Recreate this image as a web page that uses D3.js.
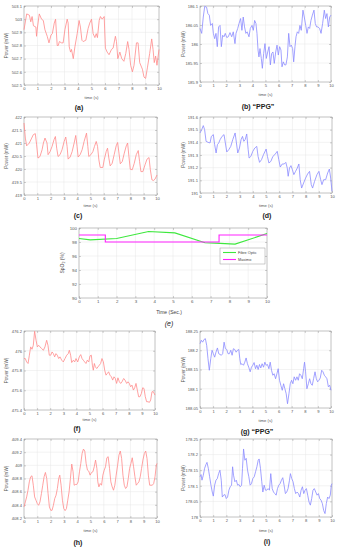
<!DOCTYPE html>
<html>
<head>
<meta charset="utf-8">
<script src="https://cdn.jsdelivr.net/npm/d3@7"></script>
<style>
  body { margin: 0; background: #fff; }
  svg text { font-family: 'Liberation Sans', Arial, sans-serif; }
</style>
</head>
<body>
<div id="chart"></div>
<script>
const timeTicks = [0, 1, 2, 3, 4, 5, 6, 7, 8, 9, 10];

/* (a) */
const aTicks = [502.5, 502.6, 502.7, 502.8, 502.9, 503, 503.1];
const aTime = [0, 0.2, 0.4, 0.5, 0.6, 0.7, 0.88, 0.93, 1.0, 1.13, 1.3, 1.43, 1.55, 1.72, 1.85, 2.0, 2.1, 2.24, 2.34, 2.46, 2.54, 2.62, 2.78, 2.9, 3.03, 3.2, 3.27, 3.35, 3.45, 3.52, 3.65, 3.77, 3.94, 4.08, 4.18, 4.29, 4.38, 4.58, 4.75, 4.87, 5.0, 5.12, 5.25, 5.35, 5.44, 5.57, 5.66, 5.79, 5.94, 6.03, 6.16, 6.3, 6.48, 6.6, 6.77, 6.85, 6.95, 7.1, 7.24, 7.4, 7.54, 7.68, 7.78, 7.9, 8.03, 8.15, 8.33, 8.45, 8.57, 8.77, 8.89, 9.01, 9.14, 9.31, 9.46, 9.56, 9.65, 9.75, 9.85, 10];
const aPower = [502.92, 503.04, 503.03, 502.98, 503.02, 502.95, 502.94, 502.87, 502.94, 503.04, 503.0, 502.99, 502.92, 502.87, 502.82, 502.88, 502.89, 502.97, 503.0, 502.8, 502.8, 502.83, 502.82, 502.82, 502.92, 503.0, 502.97, 502.79, 502.75, 502.77, 502.7, 502.79, 502.89, 502.99, 502.94, 502.84, 502.83, 502.84, 502.93, 502.97, 503.0, 502.89, 502.86, 502.89, 502.86, 502.99, 503.02, 503.0, 503.02, 502.78, 502.75, 502.73, 502.77, 502.78, 502.87, 502.83, 502.7, 502.75, 502.7, 502.68, 502.74, 502.83, 502.77, 502.65, 502.6, 502.65, 502.82, 502.82, 502.67, 502.62, 502.56, 502.55, 502.63, 502.74, 502.85, 502.77, 502.67, 502.72, 502.65, 502.77];

/* (b) PPG */
const bTicks = [185.9, 185.95, 186, 186.05, 186.1];
const bTime = [0, 0.13, 0.25, 0.36, 0.5, 0.6, 0.71, 0.81, 0.94, 1.02, 1.12, 1.22, 1.32, 1.42, 1.53, 1.63, 1.73, 1.83, 1.93, 2.04, 2.16, 2.29, 2.42, 2.54, 2.67, 2.75, 2.88, 2.98, 3.1, 3.2, 3.3, 3.4, 3.5, 3.6, 3.74, 3.84, 3.97, 4.07, 4.17, 4.27, 4.35, 4.43, 4.5, 4.58, 4.68, 4.76, 4.86, 4.96, 5.06, 5.17, 5.27, 5.37, 5.47, 5.57, 5.67, 5.78, 5.88, 5.98, 6.08, 6.18, 6.26, 6.36, 6.46, 6.56, 6.67, 6.77, 6.87, 6.97, 7.07, 7.15, 7.25, 7.33, 7.43, 7.53, 7.63, 7.73, 7.86, 7.96, 8.07, 8.17, 8.27, 8.37, 8.47, 8.58, 8.7, 8.8, 8.9, 9.0, 9.13, 9.24, 9.36, 9.49, 9.59, 9.69, 9.8, 9.9, 10];
const bPower = [186.041, 186.028, 186.071, 186.099, 186.097, 186.080, 186.076, 186.049, 186.054, 186.028, 186.014, 186.028, 185.993, 186.045, 186.049, 185.993, 186.023, 186.019, 186.028, 186.017, 186.019, 186.030, 186.019, 186.032, 186.001, 186.028, 186.041, 186.054, 186.067, 186.036, 186.071, 186.045, 186.028, 186.032, 186.019, 186.041, 186.049, 186.036, 186.062, 186.054, 186.028, 185.984, 185.966, 185.988, 185.962, 185.936, 185.975, 186.001, 185.962, 185.979, 185.993, 185.945, 185.975, 185.979, 185.949, 185.979, 185.997, 185.971, 185.993, 185.984, 185.940, 185.953, 185.945, 185.945, 185.966, 186.028, 185.993, 185.997, 185.988, 185.953, 185.993, 186.019, 186.032, 186.028, 186.049, 186.036, 186.089, 186.071, 186.049, 186.028, 186.045, 186.041, 186.062, 186.076, 186.089, 186.054, 186.045, 186.045, 186.041, 186.028, 186.054, 186.089, 186.067, 186.080, 186.045, 186.071, 186.076];

/* (c) */
const cTicks = [419, 419.5, 420, 420.5, 421, 421.5, 422];
const cTime = [0, 0.1, 0.2, 0.4, 0.58, 0.7, 0.85, 0.95, 1.05, 1.2, 1.36, 1.46, 1.58, 1.73, 1.81, 1.96, 2.11, 2.26, 2.36, 2.46, 2.56, 2.71, 2.86, 3.02, 3.14, 3.24, 3.32, 3.47, 3.62, 3.77, 3.89, 3.99, 4.07, 4.22, 4.37, 4.52, 4.7, 4.8, 4.87, 5.03, 5.18, 5.3, 5.43, 5.53, 5.63, 5.73, 5.93, 6.03, 6.18, 6.28, 6.38, 6.48, 6.63, 6.78, 6.93, 7.04, 7.14, 7.24, 7.39, 7.54, 7.69, 7.79, 7.89, 7.99, 8.14, 8.29, 8.44, 8.59, 8.69, 8.79, 8.94, 9.1, 9.25, 9.4, 9.5, 9.62, 9.75, 9.85, 10];
const cPower = [421.77, 421.19, 420.89, 421.0, 421.19, 421.32, 421.36, 420.93, 420.42, 420.48, 420.74, 421.0, 421.19, 421.0, 420.55, 420.67, 420.87, 421.13, 421.25, 420.8, 420.48, 420.55, 420.74, 421.06, 421.23, 420.87, 420.38, 420.46, 420.67, 421.0, 421.29, 420.87, 420.46, 420.55, 420.74, 421.06, 421.38, 420.87, 420.48, 420.55, 420.67, 420.87, 421.06, 420.87, 420.35, 420.06, 420.06, 420.35, 420.67, 420.8, 420.42, 420.12, 420.22, 420.55, 420.89, 421.02, 420.61, 420.2, 420.29, 420.61, 420.89, 421.0, 420.48, 419.99, 419.97, 420.22, 420.55, 420.71, 420.29, 419.9, 419.9, 420.16, 420.38, 420.44, 419.97, 419.58, 419.56, 419.61, 419.77];

/* (d) */
const dTicks = [191, 191.1, 191.2, 191.3, 191.4, 191.5, 191.6];
const dTime = [0, 0.13, 0.25, 0.35, 0.46, 0.61, 0.76, 0.86, 1.01, 1.11, 1.22, 1.32, 1.42, 1.52, 1.67, 1.82, 1.92, 2.03, 2.18, 2.33, 2.48, 2.66, 2.76, 2.86, 2.99, 3.11, 3.22, 3.32, 3.42, 3.54, 3.65, 3.72, 3.85, 4.0, 4.15, 4.3, 4.4, 4.51, 4.66, 4.81, 5.01, 5.11, 5.22, 5.37, 5.52, 5.67, 5.85, 5.97, 6.08, 6.23, 6.38, 6.5, 6.61, 6.68, 6.78, 6.89, 7.0, 7.11, 7.24, 7.37, 7.49, 7.59, 7.7, 7.85, 8.0, 8.15, 8.3, 8.43, 8.53, 8.68, 8.86, 9.01, 9.14, 9.24, 9.37, 9.52, 9.67, 9.8, 9.9, 10];
const dPower = [191.474, 191.5, 191.532, 191.5, 191.408, 191.4, 191.395, 191.447, 191.461, 191.382, 191.316, 191.382, 191.395, 191.421, 191.447, 191.461, 191.395, 191.324, 191.342, 191.368, 191.421, 191.474, 191.395, 191.316, 191.355, 191.421, 191.447, 191.408, 191.421, 191.466, 191.342, 191.276, 191.289, 191.329, 191.355, 191.368, 191.289, 191.242, 191.263, 191.303, 191.347, 191.289, 191.237, 191.25, 191.289, 191.303, 191.329, 191.263, 191.205, 191.229, 191.229, 191.242, 191.197, 191.132, 191.197, 191.216, 191.184, 191.145, 191.171, 191.197, 191.229, 191.105, 191.039, 191.079, 191.118, 191.15, 191.171, 191.066, 191.039, 191.092, 191.145, 191.171, 191.105, 191.066, 191.105, 191.105, 191.158, 191.189, 191.118, 191.013];

/* (e) SpO2 */
const spo2Ticks = [90, 92, 94, 96, 98, 100];
const fibreTime = [0, 0.6, 2.0, 3.7, 5.1, 6.7, 7.5, 8.3, 10];
const fibreSpO2 = [98.5, 98.3, 98.5, 99.5, 99.3, 97.9, 97.8, 97.7, 99.2];
const masimoTime = [0, 1.4, 7.45, 10];
const masimoSpO2 = [99, 98, 99, 99];

/* (f) */
const fTicks = [475.4, 475.6, 475.8, 476, 476.2];
const fTime = [0, 0.1, 0.2, 0.31, 0.41, 0.51, 0.61, 0.71, 0.81, 0.92, 1.02, 1.12, 1.22, 1.35, 1.48, 1.6, 1.73, 1.83, 1.93, 2.04, 2.14, 2.24, 2.34, 2.44, 2.54, 2.65, 2.75, 2.88, 3.0, 3.13, 3.26, 3.38, 3.46, 3.56, 3.64, 3.77, 3.87, 3.97, 4.1, 4.22, 4.33, 4.43, 4.53, 4.63, 4.73, 4.83, 4.94, 5.04, 5.14, 5.22, 5.29, 5.37, 5.45, 5.55, 5.65, 5.75, 5.85, 5.95, 6.06, 6.16, 6.26, 6.36, 6.46, 6.56, 6.67, 6.77, 6.87, 6.97, 7.07, 7.17, 7.28, 7.38, 7.48, 7.61, 7.71, 7.84, 7.94, 8.04, 8.14, 8.24, 8.35, 8.45, 8.55, 8.65, 8.75, 8.85, 8.96, 9.06, 9.16, 9.26, 9.36, 9.47, 9.57, 9.67, 9.77, 9.87, 10];
const fPower = [475.921, 475.921, 475.887, 475.871, 475.955, 476.039, 476.015, 476.055, 476.197, 476.106, 476.039, 476.055, 476.039, 476.022, 476.005, 476.039, 476.106, 476.055, 475.955, 475.955, 475.988, 475.971, 475.938, 475.971, 475.955, 475.921, 475.938, 475.904, 475.887, 475.921, 475.955, 475.971, 476.005, 475.955, 475.881, 475.904, 475.887, 475.921, 475.887, 475.938, 475.961, 475.921, 475.904, 475.887, 475.871, 475.904, 475.887, 475.948, 475.955, 475.854, 475.803, 475.871, 475.837, 475.82, 475.837, 475.854, 475.871, 475.921, 475.887, 475.803, 475.753, 475.77, 475.787, 475.753, 475.736, 475.703, 475.736, 475.719, 475.669, 475.726, 475.686, 475.669, 475.686, 475.719, 475.703, 475.669, 475.686, 475.669, 475.635, 475.652, 475.602, 475.625, 475.669, 475.602, 475.534, 475.534, 475.568, 475.625, 475.618, 475.534, 475.484, 475.484, 475.477, 475.501, 475.585, 475.585, 475.551];

/* (g) PPG */
const gTicks = [188.05, 188.1, 188.15, 188.2, 188.25];
const gTime = [0, 0.1, 0.2, 0.31, 0.41, 0.51, 0.61, 0.71, 0.82, 0.92, 1.02, 1.12, 1.22, 1.33, 1.43, 1.53, 1.63, 1.73, 1.84, 1.94, 2.04, 2.14, 2.24, 2.35, 2.45, 2.55, 2.65, 2.76, 2.86, 2.96, 3.04, 3.11, 3.21, 3.32, 3.42, 3.52, 3.62, 3.72, 3.83, 3.93, 4.03, 4.13, 4.24, 4.34, 4.44, 4.54, 4.64, 4.74, 4.85, 4.95, 5.05, 5.15, 5.26, 5.36, 5.46, 5.56, 5.66, 5.77, 5.87, 5.97, 6.07, 6.17, 6.28, 6.38, 6.48, 6.58, 6.68, 6.79, 6.89, 6.99, 7.09, 7.19, 7.3, 7.4, 7.5, 7.6, 7.7, 7.81, 7.91, 7.98, 8.06, 8.16, 8.27, 8.37, 8.47, 8.57, 8.67, 8.78, 8.88, 8.98, 9.08, 9.18, 9.29, 9.39, 9.49, 9.59, 9.69, 9.8, 9.9, 10];
const gPower = [188.217, 188.226, 188.221, 188.228, 188.23, 188.213, 188.178, 188.148, 188.178, 188.2, 188.191, 188.182, 188.195, 188.206, 188.191, 188.189, 188.187, 188.191, 188.221, 188.204, 188.202, 188.191, 188.191, 188.2, 188.187, 188.204, 188.202, 188.195, 188.2, 188.202, 188.178, 188.163, 188.165, 188.161, 188.169, 188.18, 188.165, 188.156, 188.144, 188.156, 188.161, 188.168, 188.152, 188.161, 188.15, 188.163, 188.154, 188.165, 188.156, 188.169, 188.161, 188.163, 188.152, 188.169, 188.148, 188.135, 188.139, 188.126, 188.139, 188.152, 188.122, 188.109, 188.096, 188.113, 188.1, 188.087, 188.061, 188.087, 188.113, 188.122, 188.113, 188.131, 188.122, 188.131, 188.122, 188.139, 188.135, 188.126, 188.152, 188.169, 188.144, 188.1, 188.113, 188.126, 188.113, 188.109, 188.126, 188.144, 188.126, 188.118, 188.122, 188.128, 188.148, 188.144, 188.135, 188.131, 188.126, 188.105, 188.109, 188.096];

/* (h) */
const hTicks = [408.2, 408.4, 408.6, 408.8, 409, 409.2, 409.4];
const hTime = [0, 0.1, 0.2, 0.3, 0.4, 0.5, 0.6, 0.7, 0.8, 0.9, 1.0, 1.1, 1.2, 1.31, 1.41, 1.51, 1.61, 1.71, 1.81, 1.91, 2.01, 2.11, 2.21, 2.31, 2.41, 2.51, 2.61, 2.69, 2.79, 2.89, 2.99, 3.09, 3.19, 3.29, 3.39, 3.49, 3.59, 3.69, 3.77, 3.87, 3.97, 4.07, 4.17, 4.27, 4.37, 4.47, 4.57, 4.67, 4.77, 4.87, 4.97, 5.08, 5.18, 5.28, 5.38, 5.48, 5.55, 5.63, 5.73, 5.83, 5.93, 6.03, 6.13, 6.23, 6.33, 6.43, 6.53, 6.63, 6.73, 6.83, 6.93, 7.04, 7.14, 7.24, 7.34, 7.44, 7.54, 7.64, 7.74, 7.84, 7.94, 8.04, 8.14, 8.24, 8.34, 8.44, 8.54, 8.64, 8.74, 8.84, 8.94, 9.05, 9.15, 9.25, 9.35, 9.45, 9.55, 9.65, 9.75, 9.85, 9.95, 10];
const hPower = [408.368, 408.444, 408.52, 408.622, 408.749, 408.826, 408.841, 408.698, 408.52, 408.47, 408.419, 408.393, 408.444, 408.571, 408.698, 408.826, 408.892, 408.8, 408.571, 408.368, 408.317, 408.317, 408.393, 408.495, 408.546, 408.648, 408.8, 408.851, 408.698, 408.47, 408.343, 408.312, 408.343, 408.47, 408.597, 408.8, 409.019, 408.902, 408.698, 408.709, 408.709, 408.749, 408.902, 409.029, 409.181, 409.247, 409.217, 409.029, 408.927, 408.912, 408.851, 408.892, 408.902, 408.978, 409.08, 408.953, 408.749, 408.673, 408.724, 408.698, 408.851, 408.927, 408.978, 409.115, 409.131, 408.953, 408.749, 408.673, 408.622, 408.698, 408.851, 409.003, 409.156, 409.217, 409.105, 408.851, 408.698, 408.648, 408.673, 408.8, 408.953, 409.029, 409.115, 408.978, 408.826, 408.698, 408.724, 408.749, 408.826, 408.953, 409.08, 409.181, 409.217, 409.105, 408.851, 408.698, 408.698, 408.698, 408.724, 408.826, 409.003, 409.029];

/* (i) */
const iTicks = [178, 178.05, 178.1, 178.15, 178.2, 178.25];
const iTime = [0, 0.08, 0.15, 0.25, 0.35, 0.45, 0.53, 0.63, 0.73, 0.83, 0.93, 1.01, 1.11, 1.21, 1.31, 1.41, 1.51, 1.61, 1.69, 1.79, 1.89, 1.99, 2.09, 2.19, 2.29, 2.39, 2.47, 2.54, 2.64, 2.75, 2.85, 2.95, 3.05, 3.15, 3.22, 3.3, 3.4, 3.5, 3.6, 3.7, 3.8, 3.9, 4.0, 4.11, 4.21, 4.31, 4.41, 4.48, 4.58, 4.68, 4.76, 4.86, 4.96, 5.06, 5.16, 5.26, 5.36, 5.47, 5.57, 5.67, 5.77, 5.87, 5.97, 6.07, 6.17, 6.27, 6.37, 6.47, 6.57, 6.67, 6.78, 6.85, 6.95, 7.05, 7.15, 7.25, 7.36, 7.46, 7.56, 7.66, 7.76, 7.86, 7.96, 8.06, 8.16, 8.26, 8.36, 8.46, 8.56, 8.66, 8.77, 8.87, 8.97, 9.07, 9.17, 9.27, 9.37, 9.47, 9.57, 9.67, 9.77, 9.87, 9.95, 10];
const iPower = [178.129, 178.136, 178.118, 178.134, 178.156, 178.168, 178.175, 178.156, 178.129, 178.102, 178.08, 178.067, 178.102, 178.118, 178.123, 178.139, 178.15, 178.118, 178.064, 178.07, 178.072, 178.059, 178.064, 178.086, 178.097, 178.102, 178.161, 178.134, 178.113, 178.118, 178.102, 178.104, 178.097, 178.102, 178.156, 178.218, 178.182, 178.188, 178.15, 178.129, 178.102, 178.107, 178.123, 178.129, 178.145, 178.161, 178.182, 178.186, 178.156, 178.113, 178.08, 178.102, 178.086, 178.086, 178.091, 178.086, 178.139, 178.091, 178.08, 178.075, 178.07, 178.091, 178.102, 178.107, 178.118, 178.126, 178.102, 178.075, 178.08, 178.091, 178.118, 178.139, 178.123, 178.113, 178.091, 178.075, 178.08, 178.075, 178.064, 178.086, 178.097, 178.075, 178.086, 178.091, 178.07, 178.048, 178.038, 178.059, 178.086, 178.091, 178.08, 178.07, 178.075, 178.059, 178.054, 178.043, 178.021, 178.011, 178.043, 178.064, 178.059, 178.07, 178.102, 178.107];

const red = '#ff8a8a';
const blue = '#8a8aff';

const svg = d3.select('#chart')
  .append('svg')
  .attr('width', 340)
  .attr('height', 550);

function drawAxes(p, x, y, fs) {
  const g = svg.append('g');
  // grid
  g.append('g').selectAll('line').data(p.xTicks).join('line')
    .attr('x1', (d) => x(d)).attr('x2', (d) => x(d))
    .attr('y1', p.t).attr('y2', p.b)
    .attr('stroke', '#e6e6e6').attr('stroke-width', 0.5);
  g.append('g').selectAll('line').data(p.yTicks).join('line')
    .attr('x1', p.l).attr('x2', p.r)
    .attr('y1', (d) => y(d)).attr('y2', (d) => y(d))
    .attr('stroke', '#e6e6e6').attr('stroke-width', 0.5);

  const bottom = g.append('g')
    .attr('transform', `translate(0,${p.b})`)
    .call(d3.axisBottom(x).tickValues(p.xTicks).tickSize(-2).tickPadding(2).tickFormat((d) => d));
  const left = g.append('g')
    .attr('transform', `translate(${p.l},0)`)
    .call(d3.axisLeft(y).tickValues(p.yTicks).tickSize(-2).tickPadding(2).tickFormat((d) => d));
  g.append('g')
    .attr('transform', `translate(0,${p.t})`)
    .call(d3.axisTop(x).tickValues(p.xTicks).tickSize(-2).tickFormat(''));
  g.append('g')
    .attr('transform', `translate(${p.r},0)`)
    .call(d3.axisRight(y).tickValues(p.yTicks).tickSize(-2).tickFormat(''));

  g.selectAll('.domain').remove();
  g.selectAll('.tick line').attr('stroke', '#888').attr('stroke-width', 0.4);
  [bottom, left].forEach((a) => a.selectAll('text')
    .attr('font-size', fs)
    .attr('fill', '#555')
    .attr('font-family', "'Liberation Sans', Arial, sans-serif"));

  g.append('rect')
    .attr('x', p.l).attr('y', p.t)
    .attr('width', p.r - p.l).attr('height', p.b - p.t)
    .attr('fill', 'none')
    .attr('stroke', '#999')
    .attr('stroke-width', 0.5);
  return g;
}

function drawPanel(p) {
  const x = d3.scaleLinear().domain([0, 10]).range([p.l, p.r]);
  const y = d3.scaleLinear().domain([p.yTicks[0], p.yTicks[p.yTicks.length - 1]]).range([p.b, p.t]);
  p.xTicks = timeTicks;
  const g = drawAxes(p, x, y, 4.1);

  const line = d3.line()
    .x((d) => x(d[0]))
    .y((d) => y(d[1]));

  g.append('path')
    .datum(d3.zip(p.time, p.power))
    .attr('d', line)
    .attr('fill', 'none')
    .attr('stroke', p.color)
    .attr('stroke-width', 0.8)
    .attr('stroke-linejoin', 'round');

  g.append('text')
    .attr('x', (p.l + p.r) / 2)
    .attr('y', p.xlabelY)
    .attr('text-anchor', 'middle')
    .attr('font-size', 4.2)
    .attr('fill', '#555')
    .text('time (s)');

  g.append('text')
    .attr('transform', `translate(${p.ylabelX},${(p.t + p.b) / 2}) rotate(-90)`)
    .attr('text-anchor', 'middle')
    .attr('font-size', 4.6)
    .attr('fill', '#555')
    .text('Power (mW)');

  g.append('text')
    .attr('x', p.capX)
    .attr('y', p.capY)
    .attr('text-anchor', 'middle')
    .attr('font-size', 7)
    .attr('font-weight', 'bold')
    .attr('font-family', "'Liberation Serif', 'DejaVu Serif', serif")
    .attr('fill', '#222')
    .text(p.caption);
}

const panels = [
  { l: 24, r: 159, t: 6, b: 85, yTicks: aTicks, time: aTime, power: aPower, color: red, xlabelY: 99, ylabelX: 8, capX: 79, capY: 110, caption: '(a)' },
  { l: 200, r: 331, t: 6, b: 82, yTicks: bTicks, time: bTime, power: bPower, color: blue, xlabelY: 96, ylabelX: 185, capX: 258, capY: 109, caption: '(b) \u201cPPG\u201d' },
  { l: 24, r: 157, t: 117, b: 195, yTicks: cTicks, time: cTime, power: cPower, color: red, xlabelY: 207, ylabelX: 8, capX: 78, capY: 218, caption: '(c)' },
  { l: 200, r: 332, t: 117, b: 193, yTicks: dTicks, time: dTime, power: dPower, color: blue, xlabelY: 207, ylabelX: 185, capX: 267, capY: 218, caption: '(d)' },
  { l: 24, r: 155, t: 331, b: 410, yTicks: fTicks, time: fTime, power: fPower, color: red, xlabelY: 421, ylabelX: 8, capX: 77, capY: 431, caption: '(f)' },
  { l: 200, r: 331, t: 331, b: 408, yTicks: gTicks, time: gTime, power: gPower, color: blue, xlabelY: 422, ylabelX: 185, capX: 257, capY: 434, caption: '(g) \u201cPPG\u201d' },
  { l: 24, r: 157, t: 439, b: 518, yTicks: hTicks, time: hTime, power: hPower, color: red, xlabelY: 532, ylabelX: 8, capX: 78, capY: 545, caption: '(h)' },
  { l: 200, r: 332, t: 439, b: 517, yTicks: iTicks, time: iTime, power: iPower, color: blue, xlabelY: 532, ylabelX: 185, capX: 267, capY: 544, caption: '(i)' }
];
panels.forEach(drawPanel);

/* (e) SpO2 panel */
function drawSpO2() {
  const p = { l: 79, r: 267, t: 228, b: 298, xTicks: timeTicks, yTicks: spo2Ticks };
  const x = d3.scaleLinear().domain([0, 10]).range([p.l, p.r]);
  const y = d3.scaleLinear().domain([90, 100]).range([p.b, p.t]);
  const g = drawAxes(p, x, y, 4.4);

  const fibreLine = d3.line().x((d) => x(d[0])).y((d) => y(d[1]));
  const masimoLine = d3.line().x((d) => x(d[0])).y((d) => y(d[1])).curve(d3.curveStepAfter);

  g.append('path')
    .datum(d3.zip(fibreTime, fibreSpO2))
    .attr('d', fibreLine)
    .attr('fill', 'none')
    .attr('stroke', '#3ee83e')
    .attr('stroke-width', 1.1);

  g.append('path')
    .datum(d3.zip(masimoTime, masimoSpO2))
    .attr('d', masimoLine)
    .attr('fill', 'none')
    .attr('stroke', '#ff22ff')
    .attr('stroke-width', 1.1);

  // legend
  const lg = g.append('g').attr('transform', 'translate(220,248)');
  lg.append('rect')
    .attr('width', 45).attr('height', 16)
    .attr('fill', '#fff').attr('stroke', '#999').attr('stroke-width', 0.5);
  const items = [['Fibre Optic', '#3ee83e'], ['Masimo', '#ff22ff']];
  items.forEach((it, i) => {
    lg.append('line')
      .attr('x1', 3).attr('x2', 16)
      .attr('y1', 4.5 + i * 7).attr('y2', 4.5 + i * 7)
      .attr('stroke', it[1]).attr('stroke-width', 1.1);
    lg.append('text')
      .attr('x', 18).attr('y', 6 + i * 7)
      .attr('font-size', 3.8)
      .attr('fill', '#444')
      .text(it[0]);
  });

  g.append('text')
    .attr('x', (p.l + p.r) / 2 - 4)
    .attr('y', 314)
    .attr('text-anchor', 'middle')
    .attr('font-size', 5)
    .attr('fill', '#444')
    .text('Time (Sec.)');

  const yl = g.append('text')
    .attr('transform', `translate(64,${(p.t + p.b) / 2}) rotate(-90)`)
    .attr('text-anchor', 'middle')
    .attr('font-size', 5)
    .attr('fill', '#444');
  yl.append('tspan').text('SpO');
  yl.append('tspan').attr('font-size', 3.5).attr('dy', 1.2).text('2');
  yl.append('tspan').attr('dy', -1.2).text(' (%)');

  g.append('text')
    .attr('x', 169)
    .attr('y', 326)
    .attr('text-anchor', 'middle')
    .attr('font-size', 7)
    .attr('font-style', 'italic')
    .attr('font-family', "'Liberation Serif', 'DejaVu Serif', serif")
    .attr('fill', '#222')
    .text('(e)');
}
drawSpO2();
</script>
</body>
</html>
